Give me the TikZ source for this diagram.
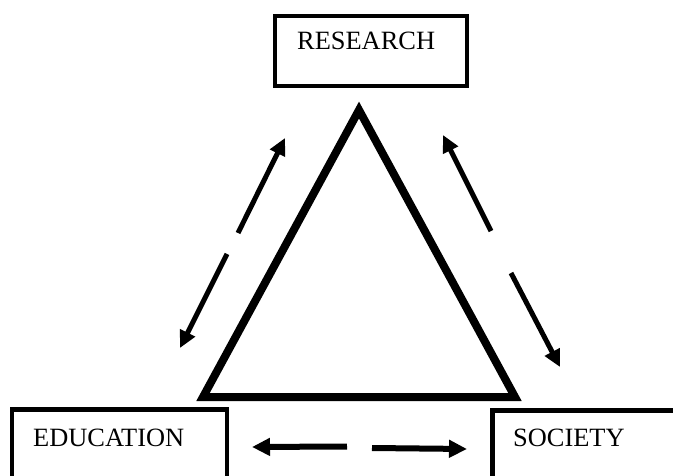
\documentclass[tikz,border=0pt]{standalone}
\usepackage{fontspec}
\setmainfont{Liberation Serif}
\usetikzlibrary{arrows.meta}
\begin{document}
\begin{tikzpicture}[x=1pt,y=-1pt,
  boxstyle/.style={draw=black,line width=4.2pt,fill=none},
  labelstyle/.style={anchor=base west,inner sep=0pt,font=\fontsize{26.4}{30}\selectfont},
  arrowstyle/.style={line width=5pt,-{Triangle[length=17pt,width=16pt]}},
  harrowstyle/.style={line width=6pt,-{Triangle[length=18pt,width=17pt]}}]
\path[use as bounding box,clip] (0,0) rectangle (673,476);
% boxes
\draw[boxstyle] (275,16) rectangle (467,86);
\node (rbox) at (371,51) {};
\draw[boxstyle] (12,409.5) rectangle (227,500);
\draw[boxstyle] (492.5,410.5) rectangle (720,500);
\node[labelstyle] (research) at (297,50) {RESEARCH};
\node[labelstyle] (education) at (33,446) {EDUCATION};
\node[labelstyle] (society) at (513,446) {SOCIETY};
% triangle
\coordinate (apex) at (359,110);
\coordinate (bl) at (203,397);
\coordinate (br) at (515,397);
\draw[line width=8pt,line join=miter] (apex) -- (bl) -- (br) -- cycle;
% arrows
\coordinate (l1t) at (238,233); \coordinate (l1h) at (285,138);
\coordinate (l2t) at (227,254); \coordinate (l2h) at (180,348);
\coordinate (r1t) at (491,231); \coordinate (r1h) at (443,135);
\coordinate (r2t) at (511,273); \coordinate (r2h) at (560,367);
\coordinate (h1t) at (347,446.5); \coordinate (h1h) at (252,447);
\coordinate (h2t) at (372,448); \coordinate (h2h) at (467,449);
\draw[arrowstyle] (l1t) -- (l1h);
\draw[arrowstyle] (l2t) -- (l2h);
\draw[arrowstyle] (r1t) -- (r1h);
\draw[arrowstyle] (r2t) -- (r2h);
\draw[harrowstyle] (h1t) -- (h1h);
\draw[harrowstyle] (h2t) -- (h2h);
\end{tikzpicture}
\end{document}
